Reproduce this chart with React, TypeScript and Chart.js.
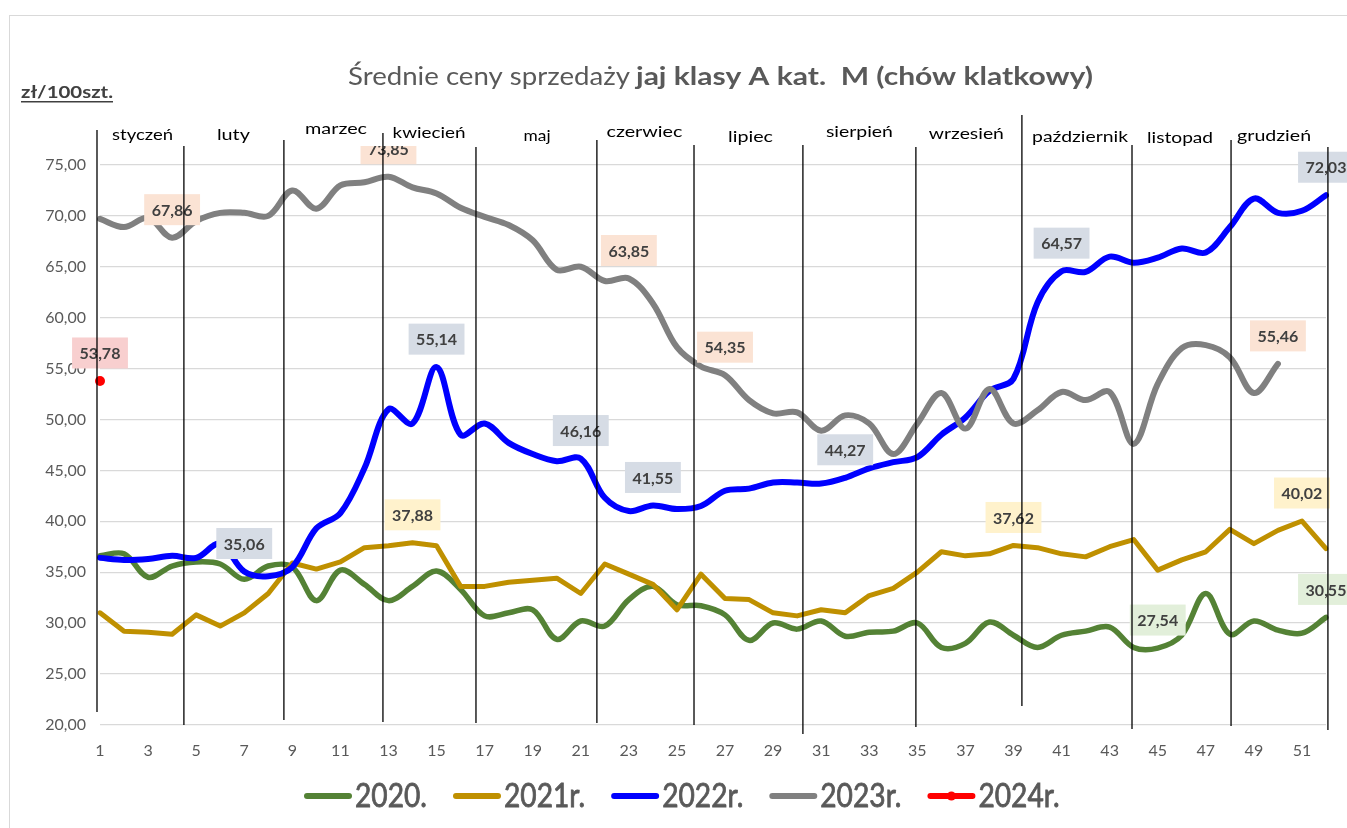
import React, { useEffect, useRef } from "react";
import { Chart, registerables } from "chart.js";

Chart.register(...registerables);

// ---------- DATA ----------
const weeks: string[] = [
  "1", "2", "3", "4", "5", "6", "7", "8", "9", "10", "11", "12", "13",
  "14", "15", "16", "17", "18", "19", "20", "21", "22", "23", "24", "25", "26",
  "27", "28", "29", "30", "31", "32", "33", "34", "35", "36", "37", "38", "39",
  "40", "41", "42", "43", "44", "45", "46", "47", "48", "49", "50", "51", "52",
];

const months: string[] = [
  "styczeń", "luty", "marzec", "kwiecień", "maj", "czerwiec",
  "lipiec", "sierpień", "wrzesień", "październik", "listopad", "grudzień",
];

const seriesNames: string[] = ["2020.", "2021r.", "2022r.", "2023r.", "2024r."];

const s2020: number[] = [
  36.6, 36.8, 34.5, 35.6, 36.0, 35.8, 34.3, 35.6, 35.5, 32.2, 35.2, 33.8, 32.2,
  33.6, 35.1, 33.3, 30.7, 31.0, 31.3, 28.4, 30.2, 29.7, 32.3, 33.6, 31.8, 31.7,
  30.8, 28.3, 30.0, 29.4, 30.2, 28.7, 29.1, 29.2, 30.0, 27.6, 28.0, 30.1, 28.8,
  27.6, 28.8, 29.2, 29.6, 27.6, 27.54, 28.8, 32.9, 28.9, 30.2, 29.3, 29.0, 30.55,
];

const s2021: number[] = [
  31.0, 29.2, 29.1, 28.9, 30.8, 29.7, 31.0, 32.9, 35.9, 35.3, 36.0, 37.4, 37.6,
  37.88, 37.6, 33.6, 33.6, 34.0, 34.2, 34.4, 32.9, 35.8, 34.8, 33.8, 31.3, 34.8,
  32.4, 32.3, 31.0, 30.7, 31.3, 31.0, 32.7, 33.4, 35.0, 37.0, 36.6, 36.8, 37.62,
  37.4, 36.8, 36.5, 37.5, 38.2, 35.2, 36.2, 37.0, 39.2, 37.8, 39.1, 40.02, 37.3,
];

const s2022: number[] = [
  36.4, 36.2, 36.3, 36.6, 36.4, 37.8, 35.06, 34.6, 35.5, 39.3, 40.8, 45.2, 51.0,
  49.6, 55.14, 48.5, 49.6, 47.7, 46.6, 45.9, 46.16, 42.3, 41.0, 41.55, 41.2, 41.5,
  43.0, 43.2, 43.8, 43.8, 43.7, 44.27, 45.2, 45.8, 46.3, 48.5, 50.2, 52.8, 54.0,
  61.5, 64.57, 64.5, 66.0, 65.4, 65.9, 66.8, 66.4, 68.9, 71.7, 70.3, 70.5, 72.03,
];

const s2023: number[] = [
  69.7, 68.9, 69.8, 67.86, 69.5, 70.3, 70.3, 70.0, 72.5, 70.7, 73.0, 73.3, 73.85,
  72.8, 72.2, 70.8, 69.9, 69.1, 67.6, 64.7, 65.0, 63.6, 63.85, 61.4, 57.1, 55.2,
  54.35, 51.9, 50.6, 50.7, 48.9, 50.4, 49.6, 46.6, 49.6, 52.6, 49.1, 53.0, 49.6,
  50.9, 52.7, 51.9, 52.7, 47.6, 53.5, 57.0, 57.3, 56.1, 52.6, 55.46,
];

const s2024: number[] = [53.78];

// weeks (1-based) that carry a value label
const labelled2020: number[] = [45, 52];
const labelled2021: number[] = [14, 39, 51];
const labelled2022: number[] = [7, 15, 21, 24, 32, 41, 52];
const labelled2023: number[] = [4, 13, 23, 27, 50];
const labelled2024: number[] = [1];

// month boundaries expressed in week units
const monthBoundaries: number[] = [
  0.875, 4.49, 8.65, 12.77, 16.64, 21.67, 25.71, 30.24, 34.94, 39.35, 43.93, 48.05, 52.08,
];

// ---------- LAYOUT / STYLE (not data) ----------
const colors = ["#548235", "#bf9000", "#0000ff", "#808080", "#ff0000"];
const labelFills = ["#e2efda", "#fff2cc", "#d6dce5", "#fbe3d4", "#f8cfcf"];
const boundaryTop = [130, 146, 140, 133, 147, 140, 145, 145, 147, 115, 145, 140, 147];
const boundaryBottom = [712, 725, 720, 722, 723, 723, 725, 734, 727, 706, 729, 726, 730];
const monthCenterWeek = [2.77, 6.55, 10.82, 14.69, 19.18, 23.65, 28.06, 32.59, 37.04, 41.77, 45.93, 49.84];
const monthBaseline = [140, 140, 134, 138, 141, 137, 142, 137, 139, 142, 143, 141];
const monthWidth = [61, 33, 62, 73, 27, 76, 45, 67, 75, 96, 66, 74];

const FONT = "Lato, 'Open Sans', 'DejaVu Sans', sans-serif";

function fmt(v: number): string {
  return v.toFixed(2).replace(".", ",");
}

function drawFitted(
  ctx: CanvasRenderingContext2D,
  text: string,
  x: number,
  y: number,
  targetW: number,
  font: string,
  align: CanvasTextAlign,
  stroke = 0
) {
  ctx.save();
  ctx.font = font;
  const w = ctx.measureText(text).width || 1;
  ctx.translate(x, y);
  ctx.scale(targetW / w, 1);
  ctx.textAlign = align;
  ctx.textBaseline = "alphabetic";
  ctx.fillText(text, 0, 0);
  if (stroke > 0) {
    ctx.strokeStyle = ctx.fillStyle as string;
    ctx.lineWidth = stroke;
    ctx.strokeText(text, 0, 0);
  }
  ctx.restore();
}

const overlayPlugin = {
  id: "overlay",
  afterDatasetsDraw(chart: any) {
    const ctx: CanvasRenderingContext2D = chart.ctx;
    const xs = chart.scales.x;
    const labelled = [labelled2020, labelled2021, labelled2022, labelled2023, labelled2024];

    // value labels
    ctx.save();
    labelled.forEach((list, ds) => {
      const meta = chart.getDatasetMeta(ds);
      const data = chart.data.datasets[ds].data as number[];
      list.forEach((w) => {
        const pt = meta.data[w - 1];
        const v = data[w - 1];
        if (!pt || v == null) return;
        const text = fmt(v);
        ctx.font = `700 16px ${FONT}`;
        const tw = ctx.measureText(text).width;
        const bw = tw + 15;
        const bh = 31;
        const cx = pt.x;
        const cy = pt.y - 28;
        ctx.fillStyle = labelFills[ds];
        ctx.fillRect(cx - bw / 2, cy - bh / 2, bw, bh);
        ctx.fillStyle = "#404040";
        ctx.textAlign = "center";
        ctx.textBaseline = "middle";
        ctx.fillText(text, cx, cy + 1);
      });
    });
    ctx.restore();

    // header strip (month text boxes)
    ctx.save();
    ctx.fillStyle = "#ffffff";
    ctx.fillRect(95, 100, 1245, 46);
    ctx.restore();

    // month boundaries
    ctx.save();
    ctx.strokeStyle = "#000000";
    ctx.lineWidth = 1.3;
    monthBoundaries.forEach((w, i) => {
      const x = xs.getPixelForValue(w - 1);
      ctx.beginPath();
      ctx.moveTo(x, boundaryTop[i]);
      ctx.lineTo(x, boundaryBottom[i]);
      ctx.stroke();
    });
    ctx.restore();

    // month names
    ctx.save();
    ctx.fillStyle = "#000000";
    months.forEach((m, i) => {
      const x = xs.getPixelForValue(monthCenterWeek[i] - 1);
      drawFitted(ctx, m, x, monthBaseline[i], monthWidth[i], `400 15px ${FONT}`, "center");
    });
    ctx.restore();

    // title
    ctx.save();
    ctx.fillStyle = "#595959";
    drawFitted(ctx, "Średnie ceny sprzedaży", 348, 85, 282, `400 25px ${FONT}`, "left");
    drawFitted(ctx, "jaj klasy A kat.  M (chów klatkowy)", 636, 85, 457, `700 25px ${FONT}`, "left");
    ctx.restore();

    // unit
    ctx.save();
    ctx.fillStyle = "#404040";
    drawFitted(ctx, "zł/100szt.", 21, 98, 92, `700 17px ${FONT}`, "left");
    ctx.fillRect(21, 101, 92, 1.5);
    ctx.restore();

    // legend
    ctx.save();
    const legendFont = `400 32px ${FONT}`;
    ctx.font = legendFont;
    const sx = 72 / ctx.measureText(seriesNames[0]).width;
    let x = 304;
    const ly = 796;
    seriesNames.forEach((name, i) => {
      ctx.strokeStyle = colors[i];
      ctx.lineWidth = 6;
      ctx.lineCap = "round";
      ctx.beginPath();
      ctx.moveTo(x + 3, ly);
      ctx.lineTo(x + 45, ly);
      ctx.stroke();
      if (i === 4) {
        ctx.fillStyle = colors[i];
        ctx.beginPath();
        ctx.arc(x + 24, ly, 4.5, 0, Math.PI * 2);
        ctx.fill();
      }
      ctx.font = legendFont;
      const tw = ctx.measureText(name).width * sx;
      ctx.fillStyle = "#595959";
      drawFitted(ctx, name, x + 51, 807, tw, legendFont, "left", 0.8);
      x = x + 51 + tw + 26;
    });
    ctx.restore();
  },
};

export default function App() {
  const canvasRef = useRef<HTMLCanvasElement | null>(null);

  useEffect(() => {
    if (!canvasRef.current) return;
    Chart.defaults.font.family = FONT;
    const series = [s2020, s2021, s2022, s2023, s2024];
    const widths = [5.5, 5, 6, 6, 3];
    const tensions = [0.35, 0, 0.35, 0.35, 0];
    const chart = new Chart(canvasRef.current, {
      type: "line",
      data: {
        labels: weeks,
        datasets: series.map((d, i) => ({
          label: seriesNames[i],
          data: d,
          borderColor: colors[i],
          backgroundColor: colors[i],
          borderWidth: widths[i],
          tension: tensions[i],
          borderCapStyle: "round" as const,
          borderJoinStyle: "round" as const,
          pointRadius: i === 4 ? 5 : 0,
          pointBorderWidth: 0,
          pointBackgroundColor: colors[i],
          pointHoverRadius: 0,
          fill: false,
          order: 5 - i,
        })),
      },
      options: {
        animation: false,
        responsive: true,
        maintainAspectRatio: false,
        events: [],
        layout: { padding: { top: 165, right: 21, bottom: 52, left: 0 } },
        plugins: {
          legend: { display: false },
          title: { display: false },
          tooltip: { enabled: false },
        },
        scales: {
          x: {
            type: "category",
            grid: { display: false, drawTicks: false },
            border: { display: false },
            ticks: {
              autoSkip: false,
              maxRotation: 0,
              padding: 16,
              color: "#595959",
              font: { size: 16, family: FONT },
              callback: (_v: any, idx: number) => (idx % 2 === 0 ? weeks[idx] : null),
            },
          },
          y: {
            min: 20,
            max: 75,
            grid: { color: "#d9d9d9", lineWidth: 1.2, drawTicks: false },
            border: { display: false },
            ticks: {
              stepSize: 5,
              padding: 14,
              color: "#595959",
              font: { size: 16, family: FONT },
              callback: (v: any) => fmt(Number(v)),
            },
            afterFit: (scale: any) => {
              scale.width = 100;
            },
          },
        },
      },
      plugins: [overlayPlugin],
    });
    return () => chart.destroy();
  }, []);

  return (
    <div
      style={{
        position: "fixed",
        left: 0,
        top: 0,
        width: 1347,
        height: 828,
        background: "#ffffff",
        overflow: "hidden",
      }}
    >
      <div
        style={{
          position: "absolute",
          left: 9,
          top: 15,
          width: 1400,
          height: 900,
          borderLeft: "1px solid #d9d9d9",
          borderTop: "1px solid #d9d9d9",
        }}
      />
      <canvas
        ref={canvasRef}
        style={{ position: "absolute", left: 0, top: 0, width: 1347, height: 828 }}
      />
    </div>
  );
}
